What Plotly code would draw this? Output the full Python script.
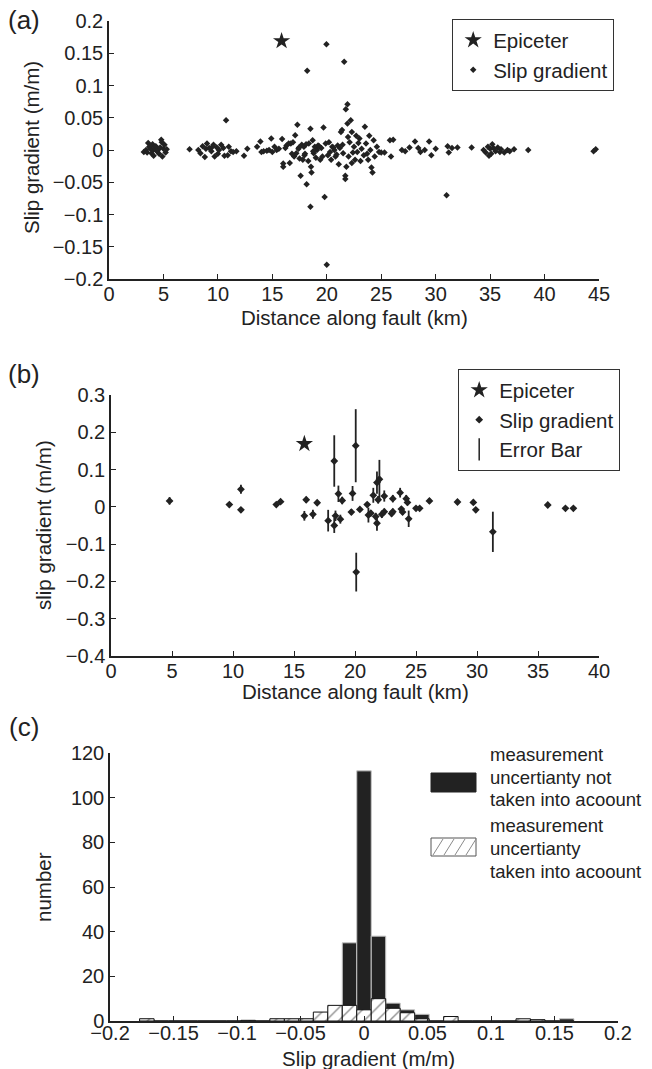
import plotly.graph_objects as go

# ---------------- data ----------------
# (a) slip gradient along fault
a_dist = [3.2, 3.4, 3.5, 3.6, 3.7, 3.8, 3.9, 4.0, 4.05, 4.1, 4.2, 4.3, 4.4, 4.45, 4.5, 4.6, 4.7, 4.8, 4.85, 4.9, 5.0, 5.1, 5.2, 5.3,
          7.4, 8.2, 8.4, 8.6, 8.8, 8.9, 9.0, 9.2, 9.4, 9.5, 9.6, 9.7, 9.9, 10.0, 10.1, 10.3, 10.5, 10.6, 10.75, 10.9, 11.0, 11.2, 11.4, 11.7, 12.4, 12.7,
          13.6, 13.9, 14.0, 14.2, 14.5, 14.7, 14.9, 15.0, 15.2, 15.4, 15.6, 15.9, 16.0, 16.0, 16.3, 16.5,
          16.6, 16.7, 16.9, 17.0, 17.1, 17.2, 17.3, 17.4, 17.5, 17.6, 17.7, 17.8, 17.9, 18.0, 18.15, 18.2, 18.3, 18.35, 18.5, 18.5,
          18.55, 18.6, 18.7, 18.8, 18.9, 19.0, 19.1, 19.2, 19.4, 19.5, 19.7, 19.8, 19.9, 19.97, 20.0, 20.1, 20.2, 20.3, 20.4, 20.5,
          20.7, 20.8, 21.0, 21.1, 21.2, 21.3, 21.4, 21.5, 21.6, 21.7, 21.7, 21.75, 21.8, 21.9, 21.9, 21.95, 22.0, 22.1, 22.2, 22.3,
          22.3, 22.5, 22.6, 22.7, 22.8, 23.0, 23.1, 23.2, 23.4, 23.5, 23.6, 23.7, 23.8, 23.9, 24.0, 24.1, 24.2, 24.3, 24.4, 24.6,
          24.8, 25.0, 25.3, 16.2, 16.8, 17.45, 17.95, 18.1, 18.75, 19.3, 19.6, 20.6, 20.9, 21.45, 22.4, 22.9,
          25.8, 25.9, 26.1, 26.9, 27.2, 27.6, 28.1, 28.4, 28.6, 29.0, 29.4, 29.6, 30.0, 31.0, 31.1, 31.2, 31.5, 32.0, 33.3,
          34.4, 34.6, 34.8, 34.9, 35.0, 35.1, 35.2, 35.3, 35.5, 35.7, 35.9, 36.0, 36.3, 36.6, 36.8, 37.2, 38.5, 44.5, 44.7]
a_grad = [-0.003, 0.0, -0.004, 0.011, 0.005, 0.002, -0.005, 0.009, 0.0, -0.009, 0.003, 0.006, -0.002, -0.001, 0.001, -0.006, 0.004, 0.016, 0.012, -0.01, 0.002, 0.008, -0.004, 0.001,
          0.001, 0.0, -0.005, 0.006, -0.011, 0.002, 0.01, 0.003, -0.002, 0.005, 0.008, -0.01, 0.004, -0.006, 0.0, 0.008, 0.003, -0.009, 0.046, -0.008, 0.005, -0.002, -0.003, -0.002, -0.009, 0.002,
          0.005, 0.013, -0.003, -0.002, -0.001, 0.0, 0.018, -0.003, 0.005, 0.0, 0.002, 0.017, -0.021, -0.026, 0.007, 0.01,
          -0.02, 0.01, 0.012, -0.01, 0.023, -0.005, 0.039, 0.002, -0.013, -0.04, 0.008, -0.015, 0.005, -0.006, -0.053, 0.123, -0.017, 0.01, 0.033, -0.088,
          -0.026, -0.035, 0.015, -0.005, 0.005, -0.012, 0.0, 0.007, -0.015, 0.003, 0.035, -0.073, 0.01, 0.164, -0.178, -0.008, 0.012, -0.003, -0.015, 0.005,
          0.0, -0.01, 0.007, -0.022, 0.003, 0.028, 0.031, -0.005, 0.137, -0.04, -0.045, 0.063, -0.026, 0.071, 0.041, 0.02, -0.01, 0.012, 0.046, 0.028,
          -0.02, 0.005, -0.015, 0.022, -0.003, 0.018, -0.017, 0.002, -0.008, 0.036, 0.01, -0.006, -0.015, 0.022, 0.0, -0.027, -0.035, 0.015, -0.01, 0.005,
          -0.003, -0.004, -0.004, 0.003, -0.006, 0.004, -0.008, 0.009, -0.002, 0.006, -0.01, 0.004, -0.007, 0.008, -0.004, 0.011,
          0.015, -0.01, 0.016, 0.0, -0.002, 0.004, 0.013, 0.003, -0.003, 0.0, 0.013, -0.008, 0.002, -0.07, 0.006, -0.004, 0.003, 0.004, 0.004,
          0.0, -0.004, 0.005, -0.009, 0.002, -0.006, 0.009, 0.003, -0.002, 0.004, -0.003, 0.001, -0.004, 0.0, -0.002, 0.001, 0.0, -0.002, 0.001]

epi_dist = [15.85]
epi_grad = [0.169]

# (b) slip gradient with error bars
b_dist = [4.8, 9.7, 10.65, 10.65, 13.55, 13.9, 16.0, 15.85, 16.55, 16.9, 17.8, 18.3, 18.3, 18.4, 18.64, 18.8, 18.95,
          19.7, 19.8, 20.06, 20.1, 20.4, 21.0, 21.1, 21.3, 21.5, 21.8, 22.0, 21.9, 21.7, 21.8, 22.4, 22.2, 22.4, 23.0,
          23.1, 23.1, 23.7, 23.8, 23.9, 24.2, 24.3, 24.4, 25.0, 25.3, 26.1, 28.4, 29.7, 29.9, 31.3, 35.8, 37.25, 37.9]
b_grad = [0.016, 0.006, 0.047, -0.008, 0.006, 0.014, 0.019, -0.024, -0.020, 0.011, -0.037, 0.123, -0.050, -0.024, 0.035, -0.033, 0.017,
          -0.014, 0.036, 0.164, -0.175, -0.007, 0.006, -0.022, -0.017, 0.031, 0.065, 0.074, 0.019, -0.026, -0.044, 0.029, -0.020, -0.013, -0.018,
          0.022, -0.013, 0.038, -0.006, -0.014, 0.022, 0.012, -0.032, -0.004, -0.004, 0.016, 0.013, 0.012, -0.008, -0.067, 0.005, -0.004, -0.004]
b_err = [0.010, 0.006, 0.012, 0.007, 0.006, 0.006, 0.008, 0.013, 0.012, 0.007, 0.029, 0.069, 0.020, 0.014, 0.022, 0.012, 0.010,
         0.008, 0.020, 0.098, 0.052, 0.006, 0.006, 0.020, 0.008, 0.020, 0.030, 0.052, 0.010, 0.010, 0.020, 0.015, 0.010, 0.008, 0.008,
         0.010, 0.008, 0.013, 0.006, 0.008, 0.010, 0.008, 0.022, 0.004, 0.004, 0.007, 0.006, 0.007, 0.007, 0.054, 0.005, 0.004, 0.004]

# (c) histograms
bin_centers = [-0.171, -0.1596, -0.1482, -0.1368, -0.1254, -0.114, -0.1026, -0.0912, -0.0798, -0.0684, -0.057, -0.0456,
               -0.0342, -0.0228, -0.0114, 0.0, 0.0114, 0.0228, 0.0342, 0.0456, 0.057, 0.0684, 0.0798, 0.0912, 0.1026,
               0.114, 0.1254, 0.1368, 0.1482, 0.1596]
count_no_unc = [1, 0, 0, 0, 0, 0, 0, 0, 0, 1, 1, 1,
                3, 6, 35, 112, 38, 8, 5, 3, 0, 0, 0, 0, 0,
                0, 0, 0, 0, 1]
count_unc = [1, 0, 0, 0, 0, 0, 0, 0.3, 0, 1, 1, 1,
             4, 7, 7, 5, 10, 5.7, 3.7, 1, 0, 2, 0, 0, 0,
             0, 1, 0.6, 0, 0]
bin_width = 0.0114

# tick labels
a_xticks = [0, 5, 10, 15, 20, 25, 30, 35, 40, 45]
a_yticks = [-0.2, -0.15, -0.1, -0.05, 0, 0.05, 0.1, 0.15, 0.2]
a_yticktext = ["\u22120.2", "\u22120.15", "\u22120.1", "\u22120.05", "0", "0.05", "0.1", "0.15", "0.2"]
b_xticks = [0, 5, 10, 15, 20, 25, 30, 35, 40]
b_yticks = [-0.4, -0.3, -0.2, -0.1, 0, 0.1, 0.2, 0.3]
b_yticktext = ["\u22120.4", "\u22120.3", "\u22120.2", "\u22120.1", "0", "0.1", "0.2", "0.3"]
c_xticks = [-0.2, -0.15, -0.1, -0.05, 0, 0.05, 0.1, 0.15, 0.2]
c_xticktext = ["\u22120.2", "\u22120.15", "\u22120.1", "\u22120.05", "0", "0.05", "0.1", "0.15", "0.2"]
c_yticks = [0, 20, 40, 60, 80, 100, 120]

# ---------------- figure ----------------
W, H = 652, 1069
INK = "#222222"
FONT = "Liberation Sans, Arial, sans-serif"
TICK_SIZE = 20
TITLE_SIZE = 20.5


def px(x):
    return x / W


def py(y):
    return 1 - y / H


fig = go.Figure()

# (a)
fig.add_trace(go.Scatter(x=epi_dist, y=epi_grad, mode="markers", name="Epiceter",
                         marker=dict(symbol="star", size=13, color=INK), xaxis="x", yaxis="y", legend="legend"))
fig.add_trace(go.Scatter(x=a_dist, y=a_grad, mode="markers", name="Slip gradient",
                         marker=dict(symbol="diamond", size=5, color=INK), xaxis="x", yaxis="y", legend="legend"))

# (b)
fig.add_trace(go.Scatter(x=epi_dist, y=epi_grad, mode="markers", name="Epiceter",
                         marker=dict(symbol="star", size=13, color=INK), xaxis="x2", yaxis="y2", legend="legend2"))
fig.add_trace(go.Scatter(x=b_dist, y=b_grad, mode="markers", name="Slip gradient",
                         marker=dict(symbol="diamond", size=6, color=INK),
                         error_y=dict(type="data", array=b_err, visible=True, thickness=1.8, width=0, color=INK),
                         xaxis="x2", yaxis="y2", legend="legend2"))
fig.add_trace(go.Scatter(x=[None], y=[None], mode="markers", name="Error Bar",
                         marker=dict(symbol="line-ns-open", size=20, color=INK, line=dict(width=1.5, color=INK)),
                         xaxis="x2", yaxis="y2", legend="legend2"))

# (c)
fig.add_trace(go.Bar(x=bin_centers, y=count_no_unc, width=bin_width, name="not taken",
                     marker=dict(color=INK, line=dict(color="#c4c4c4", width=1)),
                     xaxis="x3", yaxis="y3", showlegend=False))
fig.add_trace(go.Bar(x=bin_centers, y=count_unc, width=bin_width, name="taken",
                     marker=dict(color="white", line=dict(color="#111111", width=1),
                                 pattern=dict(shape="/", fgcolor="#8a8a8a", bgcolor="white", size=9, solidity=0.15)),
                     xaxis="x3", yaxis="y3", showlegend=False))

axis_common = dict(showline=True, linecolor=INK, linewidth=1.5, ticks="inside", ticklen=5, tickwidth=1,
                   tickcolor=INK, showgrid=False, zeroline=False, mirror=False, automargin=False,
                   tickfont=dict(family=FONT, size=TICK_SIZE, color=INK))
xaxis_common = dict(axis_common, ticklabelstandoff=-4)
xaxis_c = dict(axis_common, ticklabelstandoff=-7)

fig.update_layout(
    template="none",
    width=W, height=H, margin=dict(l=0, r=0, t=0, b=0, autoexpand=False),
    paper_bgcolor="white", plot_bgcolor="white", barmode="overlay",
    font=dict(family=FONT, size=TICK_SIZE, color=INK),
    xaxis=dict(domain=[px(109), px(599)], range=[0, 45], tickvals=a_xticks, anchor="y", **xaxis_common),
    yaxis=dict(domain=[py(279), py(21)], range=[-0.2, 0.2], tickvals=a_yticks, ticktext=a_yticktext, anchor="x",
               **axis_common),
    xaxis2=dict(domain=[px(111), px(599)], range=[0, 40], tickvals=b_xticks, anchor="y2", **xaxis_common),
    yaxis2=dict(domain=[py(656), py(395)], range=[-0.4, 0.3], tickvals=b_yticks, ticktext=b_yticktext, anchor="x2",
                **axis_common),
    xaxis3=dict(domain=[px(110), px(618)], range=[-0.2, 0.2], tickvals=c_xticks, ticktext=c_xticktext, anchor="y3",
                **xaxis_c),
    yaxis3=dict(domain=[py(1021), py(753)], range=[0, 120], tickvals=c_yticks, anchor="x3", **axis_common),
    legend=dict(x=px(452), y=py(19), xanchor="left", yanchor="top", bordercolor="#333333", borderwidth=1.2,
                bgcolor="white", font=dict(family=FONT, size=TITLE_SIZE, color=INK), itemwidth=30),
    legend2=dict(x=px(458), y=py(369), xanchor="left", yanchor="top", bordercolor="#333333", borderwidth=1.2,
                 bgcolor="white", font=dict(family=FONT, size=TITLE_SIZE, color=INK), itemwidth=30),
)

# axis titles (as text annotations placed precisely)
axis_titles = [
    ("Distance along fault (km)", 354, 318, 0),
    ("Distance along fault (km)", 355, 691, 0),
    ("Slip gradient (m/m)", 368, 1058, 0),
    ("Slip gradient (m/m)", 32, 148, -90),
    ("slip gradient (m/m)", 43, 525, -90),
    ("number", 43, 887, -90),
]
for txt, xx, yy, ang in axis_titles:
    fig.add_annotation(text=txt, x=px(xx), y=py(yy), xref="paper", yref="paper", showarrow=False,
                       textangle=ang, xanchor="center", yanchor="middle", borderpad=0,
                       font=dict(family=FONT, size=TITLE_SIZE, color=INK))

# panel labels
for lab, yy in [("(a)", 20), ("(b)", 374), ("(c)", 727)]:
    fig.add_annotation(text=lab, x=px(24), y=py(yy), xref="paper", yref="paper", showarrow=False,
                       xanchor="center", yanchor="middle", font=dict(family=FONT, size=26, color=INK))

# manual legend for (c)
shapes = []
shapes.append(dict(type="rect", xref="paper", yref="paper", x0=px(431), x1=px(476), y0=py(792), y1=py(773),
                   fillcolor=INK, line=dict(color=INK, width=1)))
shapes.append(dict(type="rect", xref="paper", yref="paper", x0=px(431), x1=px(476), y0=py(856), y1=py(838),
                   fillcolor="white", line=dict(color="#555555", width=1)))
for k in range(4):
    xs = 431 + 2 + k * 11
    shapes.append(dict(type="line", xref="paper", yref="paper", x0=px(xs), y0=py(855), x1=px(xs + 10), y1=py(839),
                       line=dict(color="#8a8a8a", width=1)))
fig.update_layout(shapes=shapes)

leg_lines = [("measurement", 754), ("uncertianty not", 777), ("taken into acoount", 799),
             ("measurement", 825), ("uncertianty", 848), ("taken into acoount", 871)]
for txt, yy in leg_lines:
    fig.add_annotation(text=txt, x=px(488), y=py(yy), xref="paper", yref="paper", showarrow=False,
                       xanchor="left", yanchor="middle", font=dict(family=FONT, size=18.5, color=INK))

fig.write_html("out.html")
